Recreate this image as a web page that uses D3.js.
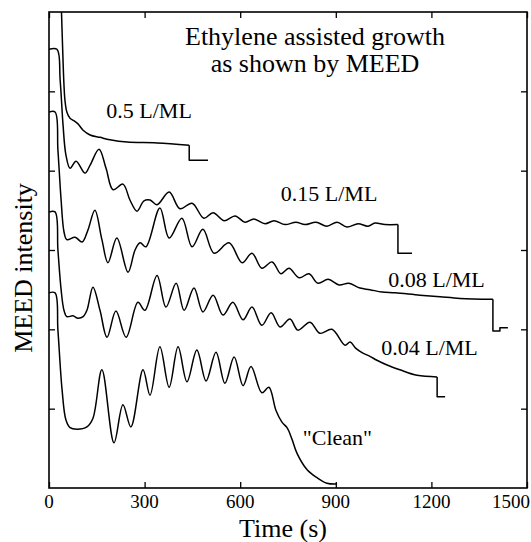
<!DOCTYPE html>
<html><head><meta charset="utf-8">
<script src="https://cdn.jsdelivr.net/npm/d3@7"></script>
<style>body{margin:0;background:#fff}svg{display:block}</style>
</head><body><svg id="c" width="531" height="542"></svg>
<script>
// time (s) vs MEED intensity (arb. units, offset curves)
const xTicks = [0, 300, 600, 900, 1200, 1500];
const yTicks = [1, 2, 3, 4, 5];
const title = ["Ethylene assisted growth", "as shown by MEED"];

const ml05 = [[38,6.15],[41,5.77],[44,5.39],[47,5.08],[50,4.89],[56,4.74],[66,4.66],[78,4.63],[91,4.59],[107,4.51],[129,4.45],[160,4.42],[191,4.39],[245,4.36],[339,4.35],[440,4.32]];
const ml05Tail = [[440,4.32],[440,4.13],[499,4.13]];

const ml015 = [[0,5.53],[25,5.53],[35,5.14],[44,4.58],[53,4.20],[66,4.03],[85,4.12],[113,3.97],[129,4.07],[157,4.27],[179,4.03],[201,3.76],[232,3.83],[254,3.63],[276,3.49],[298,3.62],[317,3.63],[339,3.57],[377,3.73],[411,3.52],[449,3.59],[486,3.40],[515,3.47],[549,3.37],[584,3.43],[615,3.35],[643,3.39],[678,3.33],[706,3.37],[741,3.32],[775,3.35],[803,3.32],[838,3.35],[872,3.30],[904,3.35],[935,3.29],[970,3.33],[1001,3.30],[1023,3.34],[1054,3.32],[1095,3.32]];
const ml015Tail = [[1095,3.32],[1095,2.96],[1139,2.96]];

const ml008 = [[0,4.74],[19,4.74],[28,4.26],[38,3.63],[47,3.23],[56,3.13],[82,3.16],[104,3.10],[122,3.25],[144,3.50],[166,3.13],[185,2.84],[213,3.15],[248,2.72],[270,3.00],[286,3.09],[304,3.04],[348,3.53],[377,3.15],[417,3.40],[449,3.04],[483,3.26],[518,2.96],[565,3.09],[606,2.84],[637,2.96],[668,2.77],[700,2.85],[728,2.70],[753,2.77],[785,2.65],[816,2.70],[844,2.58],[876,2.63],[910,2.56],[941,2.58],[976,2.52],[1007,2.50],[1045,2.47],[1086,2.46],[1164,2.43],[1227,2.41],[1290,2.39],[1393,2.38]];
const ml008Tail = [[1393,2.38],[1393,1.98],[1415,1.98],[1415,2.02],[1440,2.02]];

const ml004 = [[0,3.48],[19,3.48],[28,3.00],[38,2.50],[47,2.24],[56,2.16],[75,2.17],[91,2.14],[107,2.16],[119,2.24],[138,2.53],[160,2.24],[182,1.90],[210,2.23],[242,1.90],[279,2.34],[301,2.24],[339,2.68],[367,2.28],[399,2.58],[424,2.24],[455,2.52],[483,2.22],[515,2.43],[546,2.18],[577,2.34],[609,2.12],[637,2.28],[668,2.05],[697,2.21],[725,2.03],[756,2.13],[781,1.99],[819,2.09],[850,1.95],[888,2.00],[929,1.80],[945,1.84],[963,1.76],[985,1.70],[1007,1.66],[1029,1.61],[1061,1.55],[1101,1.49],[1155,1.42],[1218,1.40]];
const ml004Tail = [[1218,1.40],[1218,1.15],[1243,1.15]];

const clean = [[0,2.46],[19,2.46],[28,1.99],[41,1.24],[53,0.86],[66,0.76],[88,0.74],[119,0.77],[138,0.88],[166,1.49],[204,0.57],[232,1.05],[257,0.77],[295,1.49],[317,1.17],[348,1.78],[377,1.27],[405,1.78],[433,1.34],[464,1.74],[493,1.35],[524,1.71],[552,1.32],[581,1.65],[609,1.29],[634,1.53],[668,1.20],[690,1.27],[712,0.98],[731,0.83],[747,0.76],[763,0.61],[778,0.44],[810,0.23],[841,0.13],[872,0.06],[904,0.05]];

const labels = [
  {text:"0.5 L/ML", t:314, v:4.66},
  {text:"0.15 L/ML", t:879, v:3.62},
  {text:"0.08 L/ML", t:1216, v:2.53},
  {text:"0.04 L/ML", t:1194, v:1.68},
  {text:"\"Clean\"", t:905, v:0.54}
];

const svg = d3.select("#c");
const x = d3.scaleLinear().domain([0,1500]).range([49,527]);
const y = d3.scaleLinear().domain([0,6]).range([488,12]);

svg.append("defs").append("clipPath").attr("id","clip").append("rect")
  .attr("x",49).attr("y",12).attr("width",478).attr("height",476);

const g = svg.append("g");
const tl = 6;
g.append("g").attr("transform","translate(0,488)")
  .call(d3.axisBottom(x).tickValues(xTicks).tickSize(-tl).tickFormat(""));
g.append("g").attr("transform","translate(0,12)")
  .call(d3.axisTop(x).tickValues(xTicks).tickSize(-tl).tickFormat(""));
g.append("g").attr("transform","translate(49,0)")
  .call(d3.axisLeft(y).tickValues(yTicks).tickSize(-tl).tickFormat(""));
g.append("g").attr("transform","translate(527,0)")
  .call(d3.axisRight(y).tickValues(yTicks).tickSize(-tl).tickFormat(""));
g.selectAll(".domain").remove();
g.selectAll(".tick line").attr("stroke","#000").attr("stroke-width",1.3);
g.append("rect").attr("x",49).attr("y",12).attr("width",478).attr("height",476)
  .attr("fill","none").attr("stroke","#000").attr("stroke-width",1.6);

const txt = (sel)=>sel.append("text").style("font-family","'Liberation Serif'").attr("fill","#000");

xTicks.forEach(t=>{
  const last = t===1500;
  txt(svg).attr("x", last ? 530 : x(t)).attr("y",508)
    .attr("text-anchor", last ? "end" : "middle").attr("font-size",19).text(t);
});

const smooth = d3.line().x(d=>x(d[0])).y(d=>y(d[1])).curve(d3.curveCatmullRom.alpha(0.5));
const lin = d3.line().x(d=>x(d[0])).y(d=>y(d[1]));
const cg = svg.append("g").attr("clip-path","url(#clip)")
  .attr("fill","none").attr("stroke","#000").attr("stroke-width",1.5).attr("stroke-linejoin","round");
[ml05, ml015, ml008, ml004, clean].forEach(s=>cg.append("path").attr("d",smooth(s)));
[ml05Tail, ml015Tail, ml008Tail, ml004Tail].forEach(s=>cg.append("path").attr("d",lin(s)));

labels.forEach(l=>{
  txt(svg).attr("x",x(l.t)).attr("y",y(l.v)).attr("font-size",22)
    .attr("text-anchor","middle").text(l.text);
});

txt(svg).attr("x",315).attr("y",45).attr("text-anchor","middle").attr("font-size",26).text(title[0]);
txt(svg).attr("x",315).attr("y",72).attr("text-anchor","middle").attr("font-size",26).text(title[1]);

txt(svg).attr("x",283).attr("y",537).attr("text-anchor","middle").attr("font-size",26).text("Time (s)");
txt(svg).attr("transform","translate(32,268) rotate(-90)").attr("text-anchor","middle")
  .attr("font-size",26).text("MEED intensity");
</script></body></html>
